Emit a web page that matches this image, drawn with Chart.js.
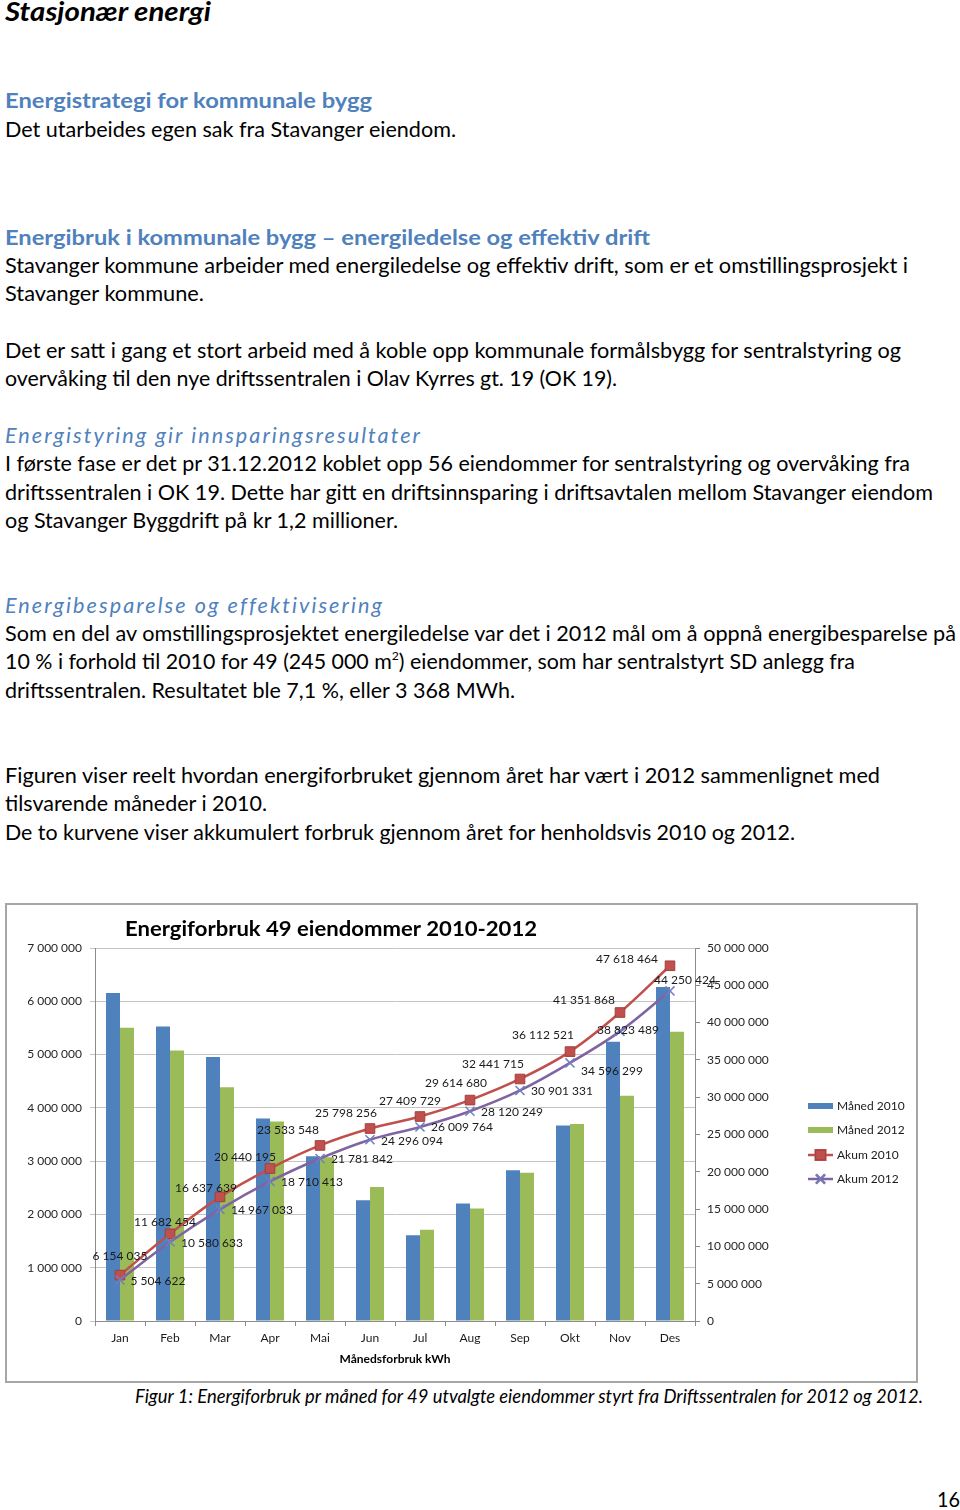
<!DOCTYPE html>
<html lang="no">
<head>
<meta charset="utf-8">
<title>Stasjonær energi</title>
<script src="https://cdn.jsdelivr.net/npm/chart.js@4.4.1/dist/chart.umd.min.js"></script>
<style>
  html, body { margin: 0; padding: 0; background: #fff; }
  body { position: relative; width: 960px; height: 1510px; overflow: hidden; font-family: Lato, "Open Sans", sans-serif; color: #000; }
  .ln { position: absolute; left: 5px; white-space: nowrap; font-size: 21px; line-height: 28px; transform-origin: 0 50%; }
  .h1 { font-weight: bold; font-style: italic; font-size: 27px; }
  .h2 { font-weight: bold; color: #4f81bd; }
  .h3 { font-style: italic; color: #4f81bd; letter-spacing: 2px; }
  .cap { font-style: italic; font-size: 19px; }
  sup { font-size: 12px; line-height: 0; vertical-align: 9px; }
  #ramme { position: absolute; left: 5px; top: 903px; width: 913px; height: 480px; box-sizing: border-box; border: 2px solid #a6a6a6; }
  #graf { position: absolute; left: 6px; top: 904px; }
</style>
</head>
<body>

<div class="ln h1" style="top:-3px" data-w="206">Stasjonær energi</div>

<div class="ln h2" style="top:86px" data-w="367">Energistrategi for kommunale bygg</div>
<div class="ln" style="top:115px" data-w="451">Det utarbeides egen sak fra Stavanger eiendom.</div>

<div class="ln h2" style="top:223px" data-w="645">Energibruk i kommunale bygg – energiledelse og effektiv drift</div>
<div class="ln" style="top:251px" data-w="903">Stavanger kommune arbeider med energiledelse og effektiv drift, som er et omstillingsprosjekt i</div>
<div class="ln" style="top:279px" data-w="199">Stavanger kommune.</div>

<div class="ln" style="top:336px" data-w="896">Det er satt i gang et stort arbeid med å koble opp kommunale formålsbygg for sentralstyring og</div>
<div class="ln" style="top:364px" data-w="612">overvåking til den nye driftssentralen i Olav Kyrres gt. 19 (OK 19).</div>

<div class="ln h3" style="top:421px" data-w="417">Energistyring gir innsparingsresultater</div>
<div class="ln" style="top:449px" data-w="905">I første fase er det pr 31.12.2012 koblet opp 56 eiendommer for sentralstyring og overvåking fra</div>
<div class="ln" style="top:478px" data-w="928">driftssentralen i OK 19. Dette har gitt en driftsinnsparing i driftsavtalen mellom Stavanger eiendom</div>
<div class="ln" style="top:506px" data-w="393">og Stavanger Byggdrift på kr 1,2 millioner.</div>

<div class="ln h3" style="top:591px" data-w="379">Energibesparelse og effektivisering</div>
<div class="ln" style="top:619px" data-w="951">Som en del av omstillingsprosjektet energiledelse var det i 2012 mål om å oppnå energibesparelse på</div>
<div class="ln" style="top:647px" data-w="850">10 % i forhold til 2010 for 49 (245 000 m<sup>2</sup>) eiendommer, som har sentralstyrt SD anlegg fra</div>
<div class="ln" style="top:676px" data-w="510">driftssentralen. Resultatet ble 7,1 %, eller 3 368 MWh.</div>

<div class="ln" style="top:761px" data-w="875">Figuren viser reelt hvordan energiforbruket gjennom året har vært i 2012 sammenlignet med</div>
<div class="ln" style="top:789px" data-w="262">tilsvarende måneder i 2010.</div>
<div class="ln" style="top:818px" data-w="790">De to kurvene viser akkumulert forbruk gjennom året for henholdsvis 2010 og 2012.</div>

<div id="ramme"></div>
<canvas id="graf" width="911" height="478"></canvas>

<div class="ln cap" style="top:1382px; left:135px" data-w="788">Figur 1: Energiforbruk pr måned for 49 utvalgte eiendommer styrt fra Driftssentralen for 2012 og 2012.</div>
<div class="ln" style="top:1485px; left:937px; font-size:22px" data-w="23">16</div>

<script>
// verdier lest av figuren
const maaneder = ['Jan', 'Feb', 'Mar', 'Apr', 'Mai', 'Jun', 'Jul', 'Aug', 'Sep', 'Okt', 'Nov', 'Des'];
const maaned2010 = [6154035, 5528419, 4955185, 3802556, 3093353, 2264708, 1611473, 2204951, 2827035, 3670806, 5239347, 6266596];
const maaned2012 = [5504622, 5076011, 4386400, 3743380, 3071429, 2514252, 1713670, 2110485, 2781082, 3694968, 4227190, 5426935];
const akum2010 = [6154035, 11682454, 16637639, 20440195, 23533548, 25798256, 27409729, 29614680, 32441715, 36112521, 41351868, 47618464];
const akum2012 = [5504622, 10580633, 14967033, 18710413, 21781842, 24296094, 26009764, 28120249, 30901331, 34596299, 38823489, 44250424];
const venstreMaks = 7000000;
const venstreSteg = 1000000;
const hoyreMaks = 50000000;
const hoyreSteg = 5000000;

// tilpass linjebredder
document.querySelectorAll('.ln').forEach(function (el) {
    let maal = parseFloat(el.dataset.w);
    let faktisk = el.getBoundingClientRect().width;
    if (faktisk > 0) el.style.transform = 'scaleX(' + (maal / faktisk) + ')';
});

function tall(v) {
    return Math.round(v).toString().replace(/\B(?=(\d{3})+(?!\d))/g, ' ');
}

// forskyvning av dataetiketter (dx, dy fra punktet til midten av teksten)
const etikett2010 = [[0, -19], [-5, -12], [-14, -9], [-25, -11], [-32, -15], [-24, -15], [-10, -15], [-14, -17], [-27, -15], [-27, -16], [-36, -12], [-43, -7]];
const etikett2012 = [[38, 1], [42, 1], [42, 1], [42, 1], [42, 1], [42, 1], [42, 0], [42, 1], [42, 1], [42, 8], [8, -1], [15, -11]];

const font = 'Lato, "Open Sans", sans-serif';

const ekstra = {
    id: 'ekstra',
    afterDatasetsDraw(chart) {
        const ctx = chart.ctx;
        ctx.save();
        ctx.font = '12px ' + font;
        ctx.fillStyle = '#1a1a1a';
        ctx.textAlign = 'center';
        ctx.textBaseline = 'middle';
        [[2, etikett2010], [3, etikett2012]].forEach(function (par) {
            let meta = chart.getDatasetMeta(par[0]);
            let verdier = chart.data.datasets[par[0]].data;
            meta.data.forEach(function (p, i) {
                ctx.fillText(tall(verdier[i]), p.x + par[1][i][0], p.y + par[1][i][1]);
            });
        });
        ctx.restore();
    },
    afterDraw(chart) {
        const ctx = chart.ctx;
        ctx.save();
        // tittel, strekt til samme bredde som originalen
        const tittel = 'Energiforbruk 49 eiendommer 2010-2012';
        ctx.font = 'bold 21px ' + font;
        ctx.fillStyle = '#000';
        ctx.textAlign = 'left';
        ctx.textBaseline = 'middle';
        let sx = 412 / ctx.measureText(tittel).width;
        ctx.save();
        ctx.translate(119, 25);
        ctx.scale(sx, 1);
        ctx.fillText(tittel, 0, 0);
        ctx.restore();

        // forklaring
        const rader = [202, 226, 251, 275];
        ctx.font = '12px ' + font;
        chart.data.datasets.forEach(function (ds, i) {
            let y = rader[i];
            if (ds.type === 'bar') {
                ctx.fillStyle = ds.backgroundColor;
                ctx.fillRect(802, y - 3, 25, 6);
            } else {
                ctx.strokeStyle = ds.borderColor;
                ctx.lineWidth = 2.5;
                ctx.beginPath();
                ctx.moveTo(802, y);
                ctx.lineTo(827, y);
                ctx.stroke();
                Chart.helpers.drawPoint(ctx, {
                    pointStyle: ds.pointStyle,
                    radius: ds.pointRadius,
                    borderWidth: ds.pointBorderWidth
                }, 814.5, y);
                if (ds.pointStyle === 'rect') {
                    ctx.fillStyle = ds.pointBackgroundColor;
                    ctx.strokeStyle = ds.pointBorderColor;
                    ctx.lineWidth = 1;
                    ctx.fill();
                    ctx.stroke();
                } else {
                    ctx.strokeStyle = ds.pointBorderColor;
                    ctx.lineWidth = ds.pointBorderWidth;
                    ctx.stroke();
                }
            }
            ctx.fillStyle = '#1a1a1a';
            ctx.fillText(ds.label, 831, y);
        });
        ctx.restore();
    }
};

Chart.defaults.font.family = font;
Chart.defaults.font.size = 12;
Chart.defaults.color = '#1a1a1a';

new Chart(document.getElementById('graf'), {
    data: {
        labels: maaneder,
        datasets: [
            {
                type: 'bar', label: 'Måned 2010', data: maaned2010, yAxisID: 'y',
                backgroundColor: '#4f81bd', order: 2,
                barPercentage: 1, categoryPercentage: 0.56
            },
            {
                type: 'bar', label: 'Måned 2012', data: maaned2012, yAxisID: 'y',
                backgroundColor: '#9bbb59', order: 2,
                barPercentage: 1, categoryPercentage: 0.56
            },
            {
                type: 'line', label: 'Akum 2010', data: akum2010, yAxisID: 'y2',
                borderColor: '#c0504d', borderWidth: 2.5, tension: 0.35, fill: false,
                pointStyle: 'rect', pointRadius: 6.8, pointBorderWidth: 1,
                pointBackgroundColor: '#c0504d', pointBorderColor: '#a33f3c', order: 1
            },
            {
                type: 'line', label: 'Akum 2012', data: akum2012, yAxisID: 'y2',
                borderColor: '#8064a2', borderWidth: 2.5, tension: 0.35, fill: false,
                pointStyle: 'crossRot', pointRadius: 6.4, pointBorderWidth: 1.5,
                pointBackgroundColor: '#6f7fc0', pointBorderColor: '#6f7fc0', order: 0
            }
        ]
    },
    options: {
        responsive: false,
        animation: false,
        layout: { padding: { top: 44, right: 122, left: 0, bottom: 0 } },
        plugins: {
            legend: { display: false },
            tooltip: { enabled: false }
        },
        scales: {
            x: {
                grid: { offset: true, drawOnChartArea: false, drawTicks: true, tickLength: 5, color: '#8c8c8c' },
                border: { color: '#8c8c8c' },
                ticks: { padding: 5, color: '#1a1a1a' },
                title: {
                    display: true, text: 'Månedsforbruk kWh',
                    font: { weight: 'bold', size: 12 },
                    padding: { top: 0, bottom: 16 }, color: '#000'
                },
                afterFit(scale) { scale.height = 61; }
            },
            y: {
                position: 'left',
                min: 0, max: venstreMaks,
                grid: { color: '#c4c4c4', tickLength: 5 },
                border: { color: '#8c8c8c' },
                ticks: { stepSize: venstreSteg, padding: 8, color: '#262626', callback: v => tall(v) },
                afterFit(scale) { scale.width = 89; }
            },
            y2: {
                position: 'right',
                min: 0, max: hoyreMaks,
                grid: { drawOnChartArea: false, tickLength: 5, color: '#8c8c8c' },
                border: { color: '#8c8c8c' },
                ticks: { stepSize: hoyreSteg, padding: 7, color: '#262626', callback: v => tall(v) },
                afterFit(scale) { scale.width = 100; }
            }
        }
    },
    plugins: [ekstra]
});
</script>
</body>
</html>
